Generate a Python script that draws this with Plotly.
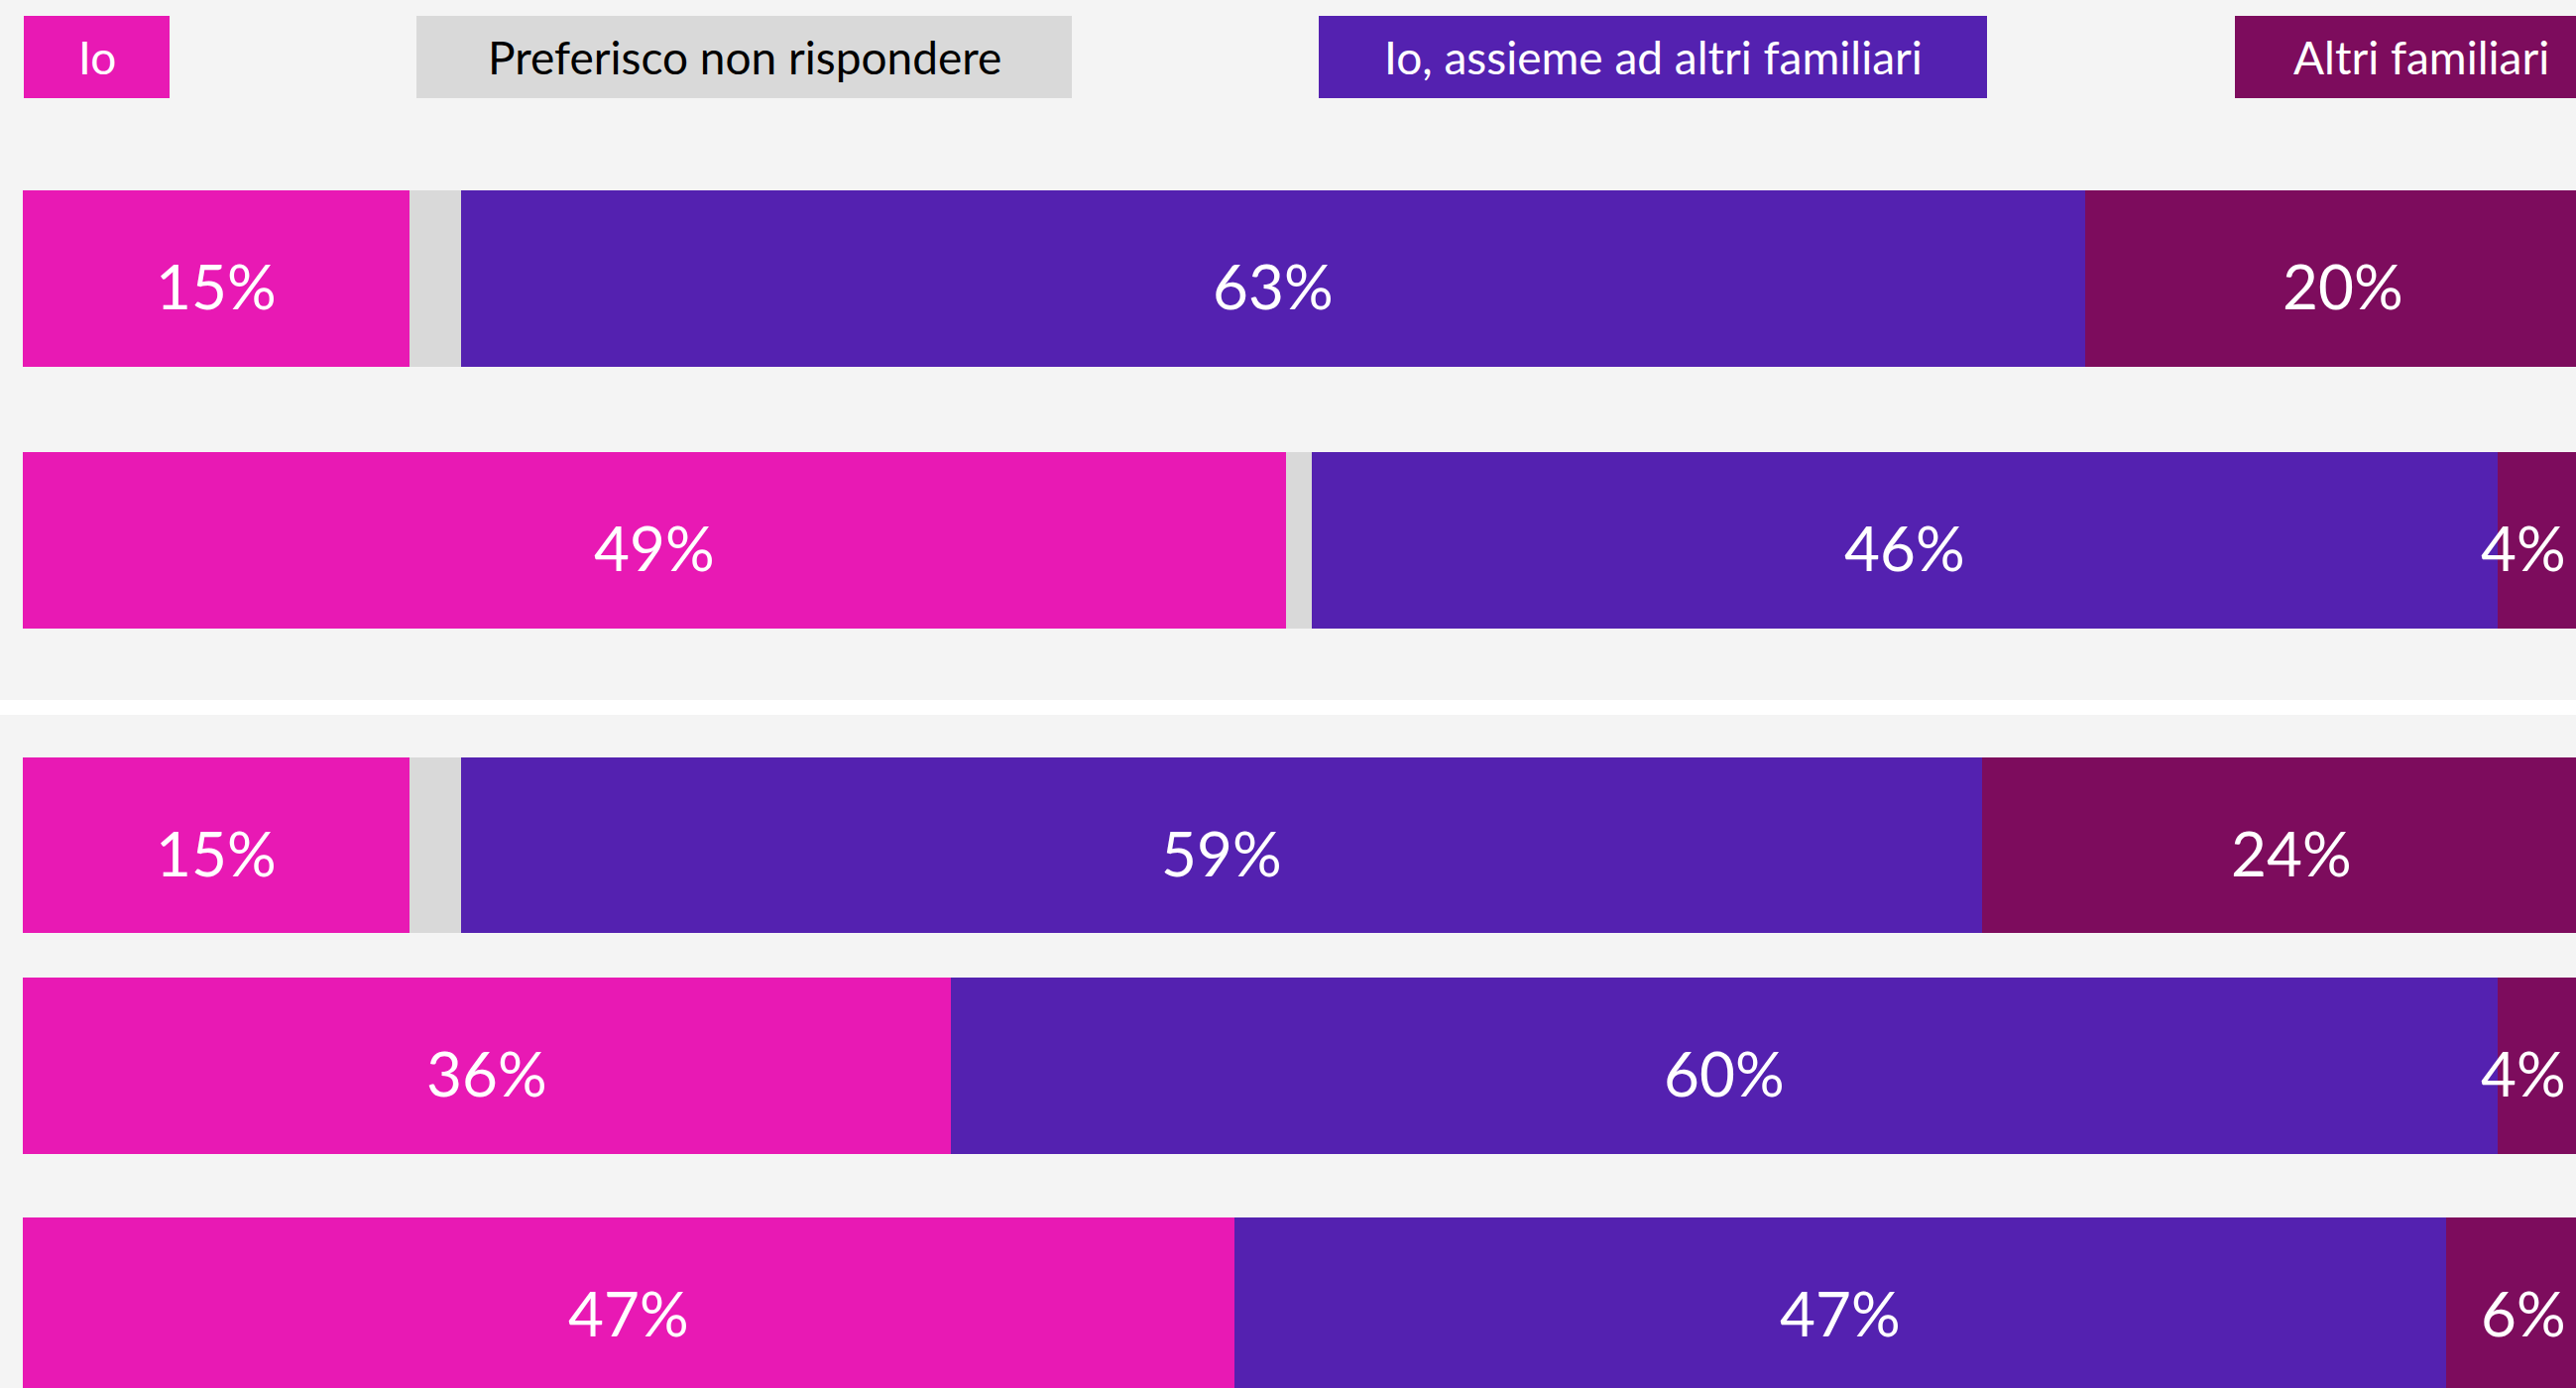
import plotly.graph_objects as go

# ---------------- data ----------------
series_names = ["Io", "Preferisco non rispondere", "Io, assieme ad altri familiari", "Altri familiari"]
row_ids = ["Gruppo 1 - a", "Gruppo 1 - b", "Gruppo 2 - a", "Gruppo 2 - b", "Gruppo 2 - c"]
io = [15, 49, 15, 36, 47]
non_risp = [2, 1, 2, 0, 0]
assieme = [63, 46, 59, 60, 47]
altri = [20, 4, 24, 4, 6]
series_values = [io, non_risp, assieme, altri]
show_label = [True, False, True, True]

# ---------------- style ----------------
W, H = 2598, 1400
colors = ["#E819B4", "#D9D9D9", "#5421B0", "#7D0C5D"]
text_colors = ["#FFFFFF", "#000000", "#FFFFFF", "#FFFFFF"]
BG = "#F4F4F4"
FONT = "Lato, 'Open Sans', sans-serif"

# pixel extents (top, bottom) of each bar row
row_px = [(192, 370), (456, 634), (764, 941), (986, 1164), (1228, 1406)]
# legend boxes (left, right) in px; all from y 16 to 99
legend_px = [(24, 171), (420, 1081), (1330, 2004), (2254, 2630)]
LEG_TOP, LEG_BOT = 16, 99

X_RANGE = [-0.885, 99.04]
LABEL_MAX_X = 97.0


def py(p):
    return 1 - p / H


def px(p):
    return p / W


fig = go.Figure()
layout_axes = {}
annotations = []

for r, rid in enumerate(row_ids):
    yname = "y" if r == 0 else f"y{r + 1}"
    top, bot = row_px[r]
    bar_h = bot - top
    dom_bot = min(bot, H)
    lo = -0.5 + (bot - dom_bot) / bar_h
    layout_axes["yaxis" if r == 0 else f"yaxis{r + 1}"] = dict(
        domain=[py(dom_bot), py(top)], range=[lo, 0.5], visible=False, fixedrange=True
    )
    cum = 0
    for s, name in enumerate(series_names):
        v = series_values[s][r]
        fig.add_trace(go.Bar(
            x=[v], y=[0], orientation="h", width=1, name=name,
            marker=dict(color=colors[s], line=dict(width=0)),
            xaxis="x", yaxis=yname, showlegend=False, hoverinfo="skip",
        ))
        if show_label[s] and v > 0:
            annotations.append(dict(
                x=min(cum + v / 2, LABEL_MAX_X), y=0, xref="x", yref=yname,
                text=f"{v}%", showarrow=False, xanchor="center", yanchor="middle",
                yshift=-7,
                font=dict(family=FONT, size=62, color="#FFFFFF"),
            ))
        cum += v

shapes = [
    dict(type="rect", xref="paper", yref="paper", x0=0, x1=1, y0=py(721), y1=py(706),
         fillcolor="#FFFFFF", line=dict(width=0), layer="below"),
]

for s, name in enumerate(series_names):
    l, rr = legend_px[s]
    shapes.append(dict(type="rect", xref="paper", yref="paper", x0=px(l), x1=px(rr),
                       y0=py(LEG_BOT), y1=py(LEG_TOP), fillcolor=colors[s],
                       line=dict(width=0), layer="below"))
    annotations.append(dict(
        x=px((l + rr) / 2), y=py((LEG_TOP + LEG_BOT) / 2), xref="paper", yref="paper",
        text=name, showarrow=False, xanchor="center", yanchor="middle",
        font=dict(family=FONT, size=46, color=text_colors[s]),
    ))

fig.update_layout(
    width=W, height=H,
    margin=dict(l=0, r=0, t=0, b=0),
    paper_bgcolor=BG, plot_bgcolor="rgba(0,0,0,0)",
    barmode="stack", bargap=0,
    xaxis=dict(range=X_RANGE, domain=[0, 1], visible=False, fixedrange=True),
    shapes=shapes, annotations=annotations,
    showlegend=False,
    **layout_axes,
)

fig.write_html(
    "out.html",
    config={"displayModeBar": False},
    post_script="document.body.style.margin='0';document.body.style.padding='0';"
                "document.body.style.overflow='hidden';",
)
